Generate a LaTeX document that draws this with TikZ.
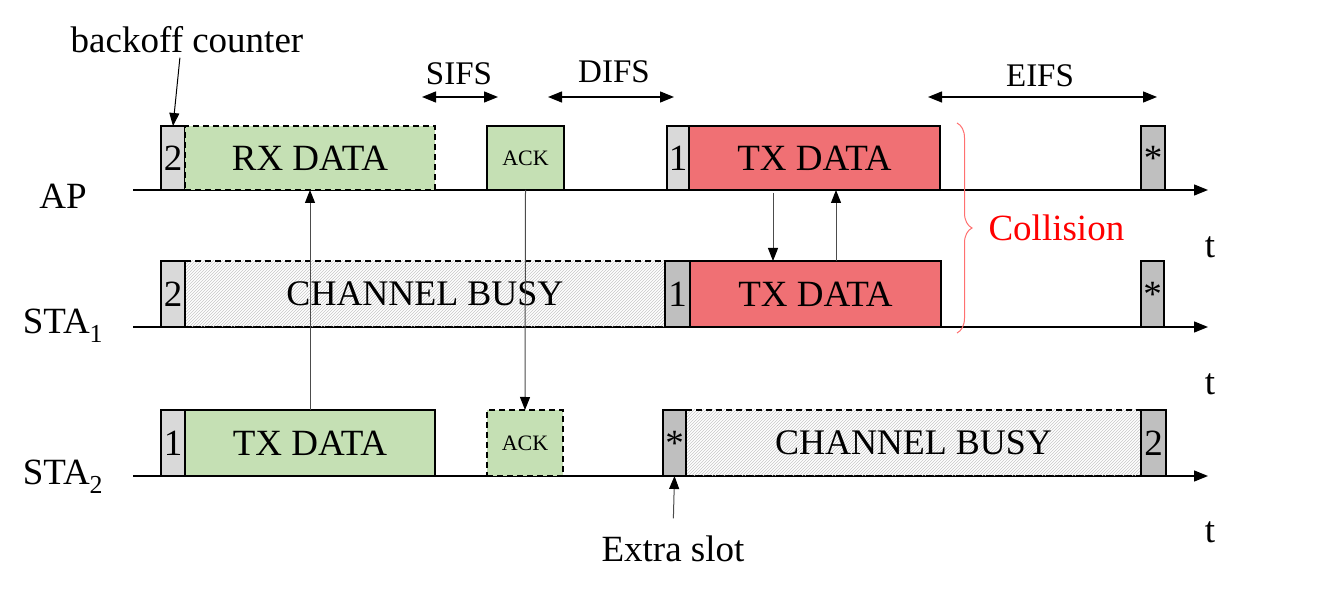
\documentclass[tikz,border=0pt]{standalone}
\usepackage{fontspec}
\setmainfont{Liberation Serif}
\usetikzlibrary{arrows.meta, patterns, decorations.pathreplacing}

\definecolor{okgreen}{HTML}{C5E0B4}
\definecolor{txred}{HTML}{F07074}
\definecolor{slotlight}{HTML}{D9D9D9}
\definecolor{slotdark}{HTML}{BFBFBF}
\definecolor{bracered}{HTML}{FF7070}

\tikzset{
  cell/.style={draw, line width=1.6pt, inner sep=0pt, outer sep=0pt, anchor=south west},
  dashbox/.style={cell, dash pattern=on 6pt off 4pt},
  busybox/.style={dashbox, pattern=north east lines, pattern color=black!22, font=\fontsize{36}{40}\selectfont},
  bigtext/.style={font=\fontsize{37}{40}\selectfont},
  acktext/.style={font=\fontsize{22}{24}\selectfont},
  labeltext/.style={font=\fontsize{37}{40}\selectfont},
  gaptext/.style={font=\fontsize{33}{36}\selectfont},
  timeline/.style={line width=1.3pt, -{Triangle[length=14pt, width=11pt]}},
  sig/.style={line width=1pt, draw=black!70, -{Triangle[length=13pt, width=10pt, color=black]}},
  gap/.style={line width=1.3pt, {Triangle[length=14pt, width=11pt]}-{Triangle[length=14pt, width=11pt]}}
}

\begin{document}
\begin{tikzpicture}[x=1pt, y=1pt]
    \useasboundingbox (0, 0) rectangle (1335, 594);

    % time axes
    \coordinate (Aa) at (133, 404);
    \coordinate (Ab) at (1208, 404);
    \coordinate (Ba) at (133, 267);
    \coordinate (Bb) at (1208, 267);
    \coordinate (Ca) at (133, 118);
    \coordinate (Cb) at (1208, 118);
    \draw[timeline] (Aa) -- (Ab);
    \draw[timeline] (Ba) -- (Bb);
    \draw[timeline] (Ca) -- (Cb);

    \node[labeltext] (AP) at (63, 398) {AP};
    \node[labeltext] (STA1) at (63, 268) {STA\textsubscript{1}};
    \node[labeltext] (STA2) at (63, 117) {STA\textsubscript{2}};
    \node[labeltext] (tA) at (1210, 347) {t};
    \node[labeltext] (tB) at (1210, 210) {t};
    \node[labeltext] (tC) at (1210, 62) {t};

    % AP
    \node[cell, bigtext, fill=slotlight, minimum width=24pt, minimum height=64pt] (A0) at (161, 404) {2};
    \node[dashbox, bigtext, fill=okgreen, minimum width=250pt, minimum height=64pt] (A1) at (185, 404) {RX DATA};
    \node[cell, acktext, fill=okgreen, minimum width=77pt, minimum height=64pt] (A2) at (487, 404) {ACK};
    \node[cell, bigtext, fill=slotlight, minimum width=22pt, minimum height=64pt] (A3) at (667, 404) {1};
    \node[cell, bigtext, fill=txred, minimum width=251pt, minimum height=64pt] (A4) at (689, 404) {TX DATA};
    \node[cell, bigtext, fill=slotdark, minimum width=24pt, minimum height=64pt] (A5) at (1141, 404) {*};

    % STA1
    \node[busybox, minimum width=480pt, minimum height=66pt] (B1) at (185, 267) {CHANNEL BUSY};
    \node[cell, bigtext, fill=slotlight, minimum width=24pt, minimum height=66pt] (B0) at (161, 267) {2};
    \node[cell, bigtext, fill=slotdark, minimum width=25pt, minimum height=66pt] (B2) at (665, 267) {1};
    \node[cell, bigtext, fill=txred, minimum width=251pt, minimum height=66pt] (B3) at (690, 267) {TX DATA};
    \node[cell, bigtext, fill=slotdark, minimum width=23pt, minimum height=66pt] (B4) at (1141, 267) {*};

    % STA2
    \node[cell, bigtext, fill=slotlight, minimum width=24pt, minimum height=66pt] (C0) at (161, 118) {1};
    \node[cell, bigtext, fill=okgreen, minimum width=250pt, minimum height=66pt] (C1) at (185, 118) {TX DATA};
    \node[dashbox, acktext, fill=okgreen, minimum width=76pt, minimum height=66pt] (C2) at (487, 118) {ACK};
    \node[busybox, minimum width=455pt, minimum height=66pt] (C4) at (686, 118) {CHANNEL BUSY};
    \node[cell, bigtext, fill=slotdark, minimum width=23pt, minimum height=66pt] (C3) at (663, 118) {*};
    \node[cell, bigtext, fill=slotdark, minimum width=25pt, minimum height=66pt] (C5) at (1141, 118) {2};

    % frames between stations
    \draw[sig] (C1.north) -- (A1.south);
    \draw[sig] (A2.south) -- (C2.north);
    \draw[sig, shorten <=3pt] ([xshift=84pt]A4.south west) -- ([xshift=83pt]B3.north west);
    \draw[sig] ([xshift=146pt]B3.north west) -- ([xshift=147pt]A4.south west);

    % interframe spaces
    \node[gaptext] (sifs) at (459, 520) {SIFS};
    \coordinate (sifsL) at (422, 497);
    \coordinate (sifsR) at (498, 497);
    \draw[gap] (sifsL) -- (sifsR);
    \node[gaptext] (difs) at (614, 522) {DIFS};
    \coordinate (difsL) at (548, 497);
    \coordinate (difsR) at (674, 497);
    \draw[gap] (difsL) -- (difsR);
    \node[gaptext] (eifs) at (1040, 518) {EIFS};
    \coordinate (eifsL) at (928, 497);
    \coordinate (eifsR) at (1157, 497);
    \draw[gap] (eifsL) -- (eifsR);

    % notes
    \node[labeltext] (bo) at (187, 554) {backoff counter};
    \draw[sig, draw=black, shorten <=1pt] ([xshift=-7pt]bo.south) -- (A0.north);
    \node[labeltext] (xs) at (673, 45) {Extra slot};
    \draw[sig, shorten <=14pt] (xs.north) -- (C3.south);

    \coordinate (brT) at (957, 471);
    \coordinate (brB) at (957, 261);
    \draw[draw=bracered, line width=1pt, decorate, decoration={brace, amplitude=15pt}] (brT) -- (brB);
    \node[labeltext, text=red, anchor=west] (coll) at (985, 366) {Collision};
\end{tikzpicture}
\end{document}
